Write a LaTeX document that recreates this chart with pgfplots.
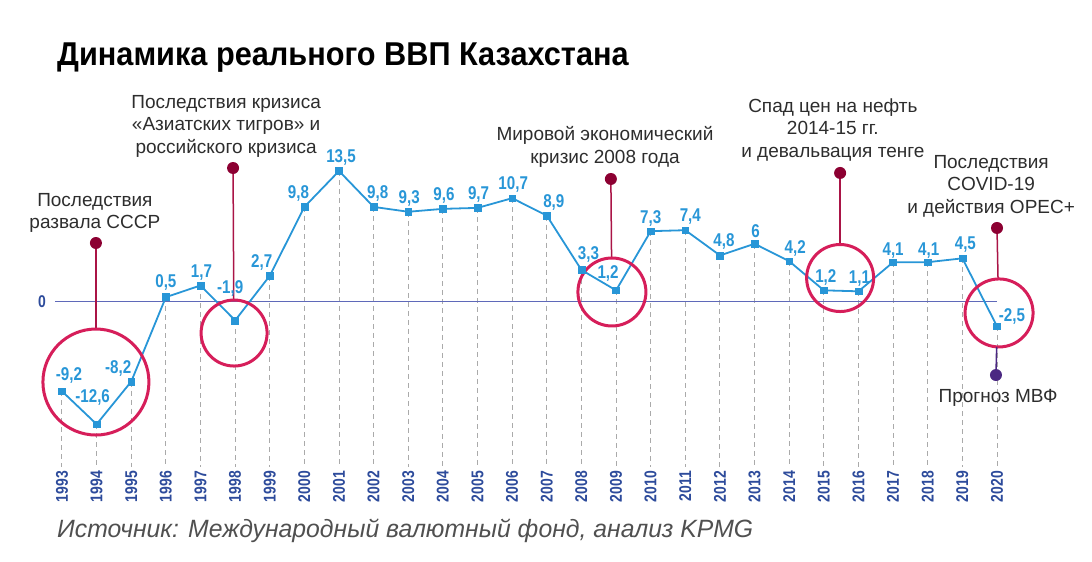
\documentclass[border=0pt]{standalone}
\usepackage{fontspec}
\setmainfont{Liberation Sans}
\newfontfamily\condb[FakeStretch=0.82]{Liberation Sans Bold}
\newfontfamily\titlefont[FakeStretch=0.93]{Liberation Sans Bold}
\newfontfamily\srcfont[FakeStretch=0.99]{Liberation Sans Italic}
\usepackage{pgfplots}
\pgfplotsset{compat=1.18}
\usepackage{pgfplotstable}

\definecolor{lineblue}{RGB}{40,150,215}
\definecolor{yearblue}{RGB}{45,75,155}
\definecolor{zeroline}{RGB}{95,105,185}
\definecolor{dashgray}{RGB}{170,170,170}
\definecolor{circred}{RGB}{214,30,90}
\definecolor{stemred}{RGB}{170,20,70}
\definecolor{dotred}{RGB}{140,0,50}
\definecolor{dotpurple}{RGB}{75,40,130}
\definecolor{annotgray}{RGB}{45,45,45}
\definecolor{srcgray}{RGB}{80,80,80}

\pgfplotstableread{
x y lab dx dy
1993 -9.2 {-9,2} 7 16
1994 -12.6 {-12,6} -4 27
1995 -8.2 {-8,2} -13 13
1996 0.5 {0,5} 0 15
1997 1.7 {1,7} 1 13
1998 -1.9 {-1,9} -5 32
1999 2.7 {2,7} -8 13
2000 9.8 {9,8} -6 13
2001 13.5 {13,5} 2 14
2002 9.8 {9,8} 4 13
2003 9.3 {9,3} 1 13
2004 9.6 {9,6} 1 13
2005 9.7 {9,7} 1 13
2006 10.7 {10,7} 1 14
2007 8.9 {8,9} 7 13
2008 3.3 {3,3} 7 15
2009 1.2 {1,2} -8 17
2010 7.3 {7,3} 0 13
2011 7.4 {7,4} 5 14
2012 4.8 {4,8} 4 14
2013 6 {6} 1 13
2014 4.2 {4,2} 6 13
2015 1.2 {1,2} 2 13
2016 1.1 {1,1} 1 13
2017 4.1 {4,1} 0 12
2018 4.1 {4,1} 1 12
2019 4.5 {4,5} 3 14
2020 -2.5 {-2,5} 15 10
}\gdp

\tikzset{annot/.style={align=center, inner sep=0pt, text=annotgray,
  font=\fontsize{19}{22.5}\selectfont}}

\begin{document}
\begin{tikzpicture}
\useasboundingbox (0pt,-95pt) rectangle (1092pt,467pt);
\begin{axis}[
  at={(0pt,0pt)}, anchor=south west,
  scale only axis, width=1092pt, height=467pt,
  xmin=1991.21, xmax=2022.743, ymin=-17.01, ymax=31.13,
  axis line style={draw=none}, major tick length=0pt,
  ytick=\empty,
  xtick={1993,1994,...,2020},
  xticklabels={1993,1994,1995,1996,1997,1998,1999,2000,2001,2002,2003,2004,2005,2006,2007,2008,2009,2010,2011,2012,2013,2014,2015,2016,2017,2018,2019,2020},
  xticklabel style={font=\condb\fontsize{17}{17}\selectfont, text=yearblue, rotate=90, anchor=east, inner sep=0pt},
  xticklabel shift=4pt,
  clip=false,
]
% dashed drop lines
\addplot[draw=none, mark=none, forget plot,
  error bars/.cd, y dir=minus, y explicit, error mark=none,
  error bar style={draw=dashgray, line width=1pt, dash pattern=on 5pt off 4pt}]
  table[x=x, y=y, y error minus expr=\thisrow{y}+17.01] {\gdp};
% zero line
\draw[zeroline, line width=1pt] (axis cs:1992.8,0) -- (axis cs:2020,0);
\node[font=\condb\fontsize{17}{17}\selectfont, text=yearblue] at (axis cs:1992.42,0) {0};
% main series
\addplot[lineblue, line width=1.8pt, mark=square*, mark size=3.4pt,
  mark options={solid, fill=lineblue, draw=lineblue, line width=0.5pt},
  point meta=explicit symbolic,
  visualization depends on={\thisrow{dx} \as \dx},
  visualization depends on={\thisrow{dy} \as \dy},
  nodes near coords,
  nodes near coords style={anchor=center, inner sep=0pt, text=lineblue,
    font=\condb\fontsize{18.5}{18.5}\selectfont, xshift=\dx pt, yshift=\dy pt},
  ] table[x=x, y=y, meta=lab] {\gdp};

% annotation 1
\draw[stemred, line width=1.5pt] (axis cs:1993.98,6.08) -- (axis cs:1993.98,-2.78);
\fill[dotred] (axis cs:1993.98,6.08) circle (6pt);
\draw[circred, line width=3pt] (axis cs:1993.98,-8.25) circle (53pt);
\node[annot] at (axis cs:1993.95,9.18) {Последствия\\развала СССР};
% annotation 2
\draw[stemred, line width=1.5pt] (axis cs:1997.94,13.81) -- (axis cs:1997.96,0.21);
\fill[dotred] (axis cs:1997.94,13.81) circle (6pt);
\draw[circred, line width=3pt] (axis cs:1997.97,-3.20) circle (33pt);
\node[annot] at (axis cs:1997.74,18.14) {Последствия кризиса\\«Азиатских тигров» и\\российского кризиса};
% annotation 3
\draw[stemred, line width=1.5pt] (axis cs:2008.85,12.68) -- (axis cs:2008.87,4.54);
\fill[dotred] (axis cs:2008.85,12.68) circle (6pt);
\draw[circred, line width=3pt] (axis cs:2008.88,1.03) circle (34pt);
\node[annot] at (axis cs:2008.68,15.98) {Мировой экономический\\кризис 2008 года};
% annotation 4
\draw[stemred, line width=1.5pt] (axis cs:2015.47,13.30) -- (axis cs:2015.47,5.93);
\fill[dotred] (axis cs:2015.47,13.30) circle (6pt);
\draw[circred, line width=3pt] (axis cs:2015.47,2.47) circle (33.5pt);
\node[annot] at (axis cs:2015.26,17.73) {Спад цен на нефть\\2014-15 гг.\\и девальвация тенге};
% annotation 5
\draw[stemred, line width=1.5pt] (axis cs:2020.0,7.63) -- (axis cs:2020.03,2.37);
\fill[dotred] (axis cs:2020.0,7.63) circle (6pt);
\draw[circred, line width=3pt] (axis cs:2020.06,-1.13) circle (34pt);
\node[annot] at (axis cs:2019.83,11.96) {Последствия\\COVID-19\\и действия OPEC+};
% annotation 6 (forecast)
\draw[dotpurple, line width=1.5pt] (axis cs:2019.99,-4.64) -- (axis cs:2019.97,-7.53);
\fill[dotpurple] (axis cs:2019.97,-7.53) circle (6pt);
\node[annot] at (axis cs:2020.03,-9.90) {Прогноз МВФ};
\end{axis}
\node[anchor=base west, inner sep=0pt] at (57pt,401pt)
  {\titlefont\fontsize{33}{33}\selectfont Динамика реального ВВП Казахстана};
\node[anchor=base west, inner sep=0pt, text=srcgray] at (57pt,-70pt)
  {\srcfont\fontsize{25}{25}\selectfont Источник: Международный валютный фонд, анализ KPMG};
\end{tikzpicture}
\end{document}
